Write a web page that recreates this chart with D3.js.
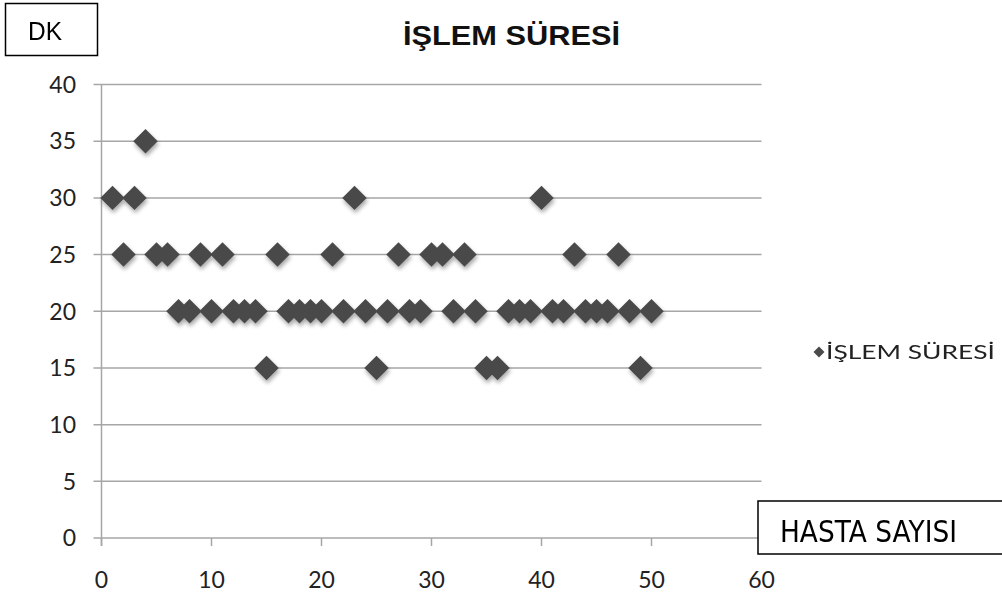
<!DOCTYPE html>
<html><head><meta charset="utf-8">
<script src="https://cdn.jsdelivr.net/npm/d3@7"></script>
<style>html,body{margin:0;padding:0;background:#fff;}svg{display:block;}</style>
</head><body>
<script>
const patients = d3.range(1, 51);
const durations = [30,25,30,35,25,25,20,20,25,20,25,20,20,20,15,25,20,20,20,20,25,20,30,20,15,20,25,20,20,25,25,20,25,20,15,15,20,20,20,30,20,20,25,20,20,20,25,20,15,20];
const xTicks = [0,10,20,30,40,50,60];
const yTicks = [0,5,10,15,20,25,30,35,40];
const title = "İŞLEM SÜRESİ";
const seriesName = "İŞLEM SÜRESİ";
const yLabel = "DK";
const xLabel = "HASTA SAYISI";

const W = 1002, H = 599;
const svg = d3.select("body").append("svg").attr("width", W).attr("height", H);
svg.append("rect").attr("width", W).attr("height", H).attr("fill", "#fff");

const defs = svg.append("defs");
const f = defs.append("filter").attr("id","sh").attr("x","-50%").attr("y","-50%").attr("width","200%").attr("height","200%");
f.append("feGaussianBlur").attr("in","SourceAlpha").attr("stdDeviation",2).attr("result","b");
f.append("feOffset").attr("in","b").attr("dx",1).attr("dy",3).attr("result","o");
f.append("feComponentTransfer").attr("in","o").attr("result","o2").append("feFuncA").attr("type","linear").attr("slope",0.35);
const m = f.append("feMerge");
m.append("feMergeNode").attr("in","o2");
m.append("feMergeNode").attr("in","SourceGraphic");

const x = d3.scaleLinear().domain([0,60]).range([101.5, 761.5]);
const y = d3.scaleLinear().domain([0,40]).range([538, 84.5]);
const grid = "#a6a6a6";

// gridlines
svg.append("g").selectAll("line").data(yTicks).join("line")
  .attr("x1", 93.5).attr("x2", x(60)).attr("y1", d=>y(d)).attr("y2", d=>y(d))
  .attr("stroke", grid).attr("stroke-width", 1.5);
// y axis line
svg.append("line").attr("x1", x(0)).attr("x2", x(0)).attr("y1", y(40)).attr("y2", y(0)+8)
  .attr("stroke", grid).attr("stroke-width", 1.5);
// x ticks
svg.append("g").selectAll("line").data(xTicks).join("line")
  .attr("x1", d=>x(d)).attr("x2", d=>x(d)).attr("y1", y(0)).attr("y2", y(0)+8)
  .attr("stroke", grid).attr("stroke-width", 1.5);

const tickFont = "Lato, 'Open Sans', sans-serif";
svg.append("g").selectAll("text").data(yTicks).join("text")
  .attr("x", 76).attr("y", d=>y(d)).attr("dy","0.36em").attr("text-anchor","end")
  .attr("font-family", tickFont).attr("font-size", 23).attr("fill","#222").text(d=>d);
svg.append("g").selectAll("text").data(xTicks).join("text")
  .attr("x", d=>x(d)).attr("y", 580).attr("dy","0.36em").attr("text-anchor","middle")
  .attr("font-family", tickFont).attr("font-size", 23).attr("fill","#222").text(d=>d);

// points
const diamond = d3.symbol().type(d3.symbolSquare).size(300)();
svg.append("g").attr("filter","url(#sh)").selectAll("path").data(patients).join("path")
  .attr("d", diamond)
  .attr("transform", (d,i)=>`translate(${x(d)},${y(durations[i])}) rotate(45)`)
  .attr("fill", "#4a4a4a");

// title
svg.append("text").attr("x", 511.5).attr("y", 45).attr("text-anchor","middle")
  .attr("font-family","'Liberation Sans', Arial, sans-serif").attr("font-weight","bold")
  .attr("font-size", 28).attr("fill","#111")
  .attr("textLength", 217).attr("lengthAdjust","spacingAndGlyphs").text(title);

// legend
svg.append("path").attr("d", d3.symbol().type(d3.symbolSquare).size(60)())
  .attr("transform", `translate(819,352) rotate(45)`).attr("fill","#4a4a4a");
svg.append("text").attr("x", 826).attr("y", 359)
  .attr("font-family", tickFont).attr("font-size", 19).attr("fill","#222")
  .attr("textLength", 169).attr("lengthAdjust","spacingAndGlyphs").text(seriesName);

// DK box
svg.append("rect").attr("x", 5.5).attr("y", 3.5).attr("width", 92).attr("height", 52)
  .attr("fill","#fff").attr("stroke","#000").attr("stroke-width", 1.5);
svg.append("text").attr("x", 28).attr("y", 40)
  .attr("font-family","'Liberation Sans', Arial, sans-serif").attr("font-size", 26).attr("fill","#000")
  .attr("textLength", 34).attr("lengthAdjust","spacingAndGlyphs").text(yLabel);

// HASTA SAYISI box
svg.append("rect").attr("x", 758).attr("y", 501).attr("width", 260).attr("height", 53)
  .attr("fill","#fff").attr("stroke","#000").attr("stroke-width", 1.5);
svg.append("text").attr("x", 780).attr("y", 542)
  .attr("font-family","'DejaVu Sans', sans-serif").attr("font-size", 30).attr("fill","#000")
  .attr("textLength", 177).attr("lengthAdjust","spacingAndGlyphs").text(xLabel);
</script>
</body></html>
